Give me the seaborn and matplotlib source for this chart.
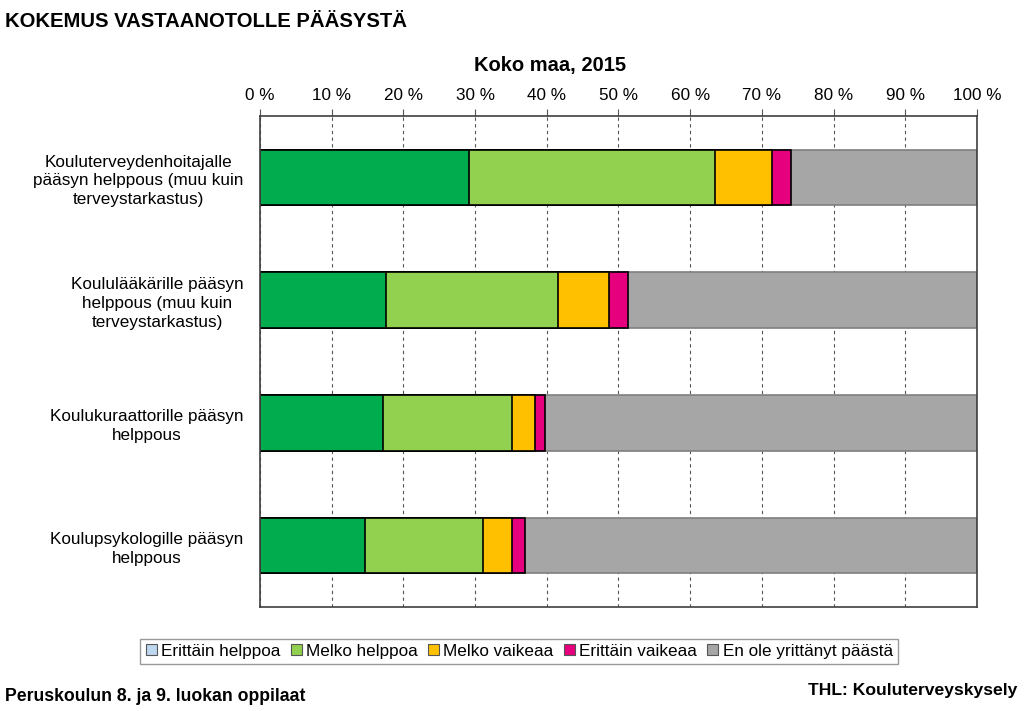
import numpy as np
import pandas as pd
import seaborn as sns
import matplotlib.pyplot as plt
from matplotlib.patches import Patch

categories = [
    "Kouluterveydenhoitajalle\npääsyn helppous (muu kuin\nterveystarkastus)",
    "Koululääkärille pääsyn\nhelppous (muu kuin\nterveystarkastus)",
    "Koulukuraattorille pääsyn\nhelppous",
    "Koulupsykologille pääsyn\nhelppous",
]
series = ["Erittäin helppoa", "Melko helppoa", "Melko vaikeaa",
          "Erittäin vaikeaa", "En ole yrittänyt päästä"]
erittain_helppoa = [29.2, 17.5, 17.1, 14.6]
melko_helppoa = [34.3, 24.1, 18.0, 16.5]
melko_vaikeaa = [7.9, 7.1, 3.3, 4.1]
erittain_vaikeaa = [2.7, 2.6, 1.4, 1.7]
ei_yrittanyt = [25.9, 48.7, 60.2, 63.1]
xticks = list(range(0, 101, 10))

bar_colors = ["#00AC4E", "#92D050", "#FFC000", "#E6007E", "#A6A6A6"]
legend_colors = ["#BDD7EE", "#92D050", "#FFC000", "#E6007E", "#A6A6A6"]

sns.set_style("white")
plt.rcParams["font.family"] = ["Liberation Sans", "DejaVu Sans"]
plt.rcParams["text.color"] = "black"
plt.rcParams["xtick.color"] = "black"
plt.rcParams["ytick.color"] = "black"

values = np.array([erittain_helppoa, melko_helppoa, melko_vaikeaa,
                   erittain_vaikeaa, ei_yrittanyt])
cum = values.cumsum(axis=0)

fig = plt.figure(figsize=(10.24, 7.11), dpi=100)
ax = fig.add_axes([0.254, 0.146, 0.700, 0.691])

# draw cumulative totals from the longest down so segments stack
for i in range(len(series) - 1, -1, -1):
    df = pd.DataFrame({"cat": categories, "val": cum[i]})
    edge = "#7F7F7F" if i == len(series) - 1 else "black"
    sns.barplot(data=df, y="cat", x="val", orient="h", ax=ax,
                color=bar_colors[i], edgecolor=edge, linewidth=1.2,
                width=0.45, saturation=1)

ax.set_xlim(0, 100)
ax.set_ylim(3.5, -0.5)
ax.set_xlabel("")
ax.set_ylabel("")
ax.xaxis.tick_top()
ax.set_xticks(xticks)
ax.set_xticklabels([f"{t} %" for t in xticks], fontsize=12.3)
ax.tick_params(axis="x", direction="out", length=5, width=0.8,
               color="#555555", pad=4)
ax.tick_params(axis="y", length=0, pad=12, labelsize=12.3)
for lbl in ax.get_yticklabels():
    lbl.set_multialignment("center")
    lbl.set_linespacing(1.3)
ax.xaxis.grid(True, linestyle=(0, (3, 3)), color="#555555", linewidth=0.8)
ax.set_axisbelow(True)
for s in ax.spines.values():
    s.set_color("#404040")
    s.set_linewidth(1.2)
    s.set_visible(True)

fig.text(0.005, 0.970, "KOKEMUS VASTAANOTOLLE PÄÄSYSTÄ", fontsize=14.6,
         fontweight="bold", ha="left", va="center")
fig.text(0.537, 0.908, "Koko maa, 2015", fontsize=14.5, fontweight="bold",
         ha="center", va="center")
fig.text(0.005, 0.020, "Peruskoulun 8. ja 9. luokan oppilaat", fontsize=12.7,
         fontweight="bold", ha="left", va="center")
fig.text(0.994, 0.029, "THL: Kouluterveyskysely", fontsize=12.6,
         fontweight="bold", ha="right", va="center")

handles = [Patch(facecolor=c, edgecolor="#555555", linewidth=0.8)
           for c in legend_colors]
leg = fig.legend(handles, series, loc="center", ncol=5,
                 bbox_to_anchor=(0.507, 0.084), fontsize=12.3, frameon=True,
                 fancybox=False, edgecolor="#808080", handlelength=0.65,
                 handleheight=0.65, handletextpad=0.25, columnspacing=0.6,
                 borderpad=0.3)
leg.get_frame().set_linewidth(1.0)

fig.savefig("out.png", dpi=100)
plt.close(fig)
